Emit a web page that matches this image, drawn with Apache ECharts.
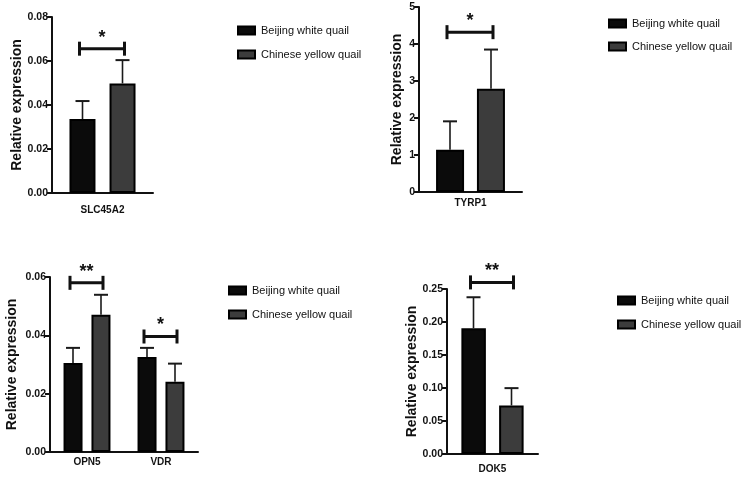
<!DOCTYPE html>
<html>
<head>
<meta charset="utf-8">
<script src="https://cdn.jsdelivr.net/npm/echarts@6/dist/echarts.min.js"></script>
<style>
  html, body { margin: 0; padding: 0; background: #fff; }
  #main { width: 741px; height: 479px; }
</style>
</head>
<body>
<div id="main"></div>
<script>
// group names
var groups = ['Beijing white quail', 'Chinese yellow quail'];

// SLC45A2
var slcCats = ['SLC45A2'];
var slcWhite = [0.0336];
var slcWhiteSd = [0.0082];
var slcYellow = [0.0498];
var slcYellowSd = [0.0106];
var slcSigY = [0.0656];
var slcSigMark = ['*'];

// TYRP1
var tyrCats = ['TYRP1'];
var tyrWhite = [1.14];
var tyrWhiteSd = [0.77];
var tyrYellow = [2.79];
var tyrYellowSd = [1.06];
var tyrSigY = [4.32];
var tyrSigMark = ['*'];

// OPN5 / VDR
var ovCats = ['OPN5', 'VDR'];
var ovWhite = [0.0305, 0.0326];
var ovWhiteSd = [0.0052, 0.0031];
var ovYellow = [0.0471, 0.0241];
var ovYellowSd = [0.0068, 0.0062];
var ovSigY = [0.058, 0.0396];
var ovSigMark = ['**', '*'];

// DOK5
var dokCats = ['DOK5'];
var dokWhite = [0.1905];
var dokWhiteSd = [0.047];
var dokYellow = [0.0735];
var dokYellowSd = [0.0263];
var dokSigY = [0.26];
var dokSigMark = ['**'];

// y axis ticks
var slcTicks = [0, 0.02, 0.04, 0.06, 0.08];
var tyrTicks = [0, 1, 2, 3, 4, 5];
var ovTicks = [0, 0.02, 0.04, 0.06];
var dokTicks = [0, 0.05, 0.10, 0.15, 0.20, 0.25];

var FONT = '"Liberation Sans", Arial, Helvetica, sans-serif';

var panels = [
  { cats: slcCats, w: slcWhite, wsd: slcWhiteSd, y: slcYellow, ysd: slcYellowSd, sigY: slcSigY, sigM: slcSigMark, ticks: slcTicks, dec: 2,
    grid: { left: 52, top: 17, width: 101, height: 176 }, barW: 26, gap: '54%', off: 20, nameGap: 28, labMargin: 12,
    legend: { left: 232, top: 20, gap: 13 } },
  { cats: tyrCats, w: tyrWhite, wsd: tyrWhiteSd, y: tyrYellow, ysd: tyrYellowSd, sigY: tyrSigY, sigM: tyrSigMark, ticks: tyrTicks, dec: 0,
    grid: { left: 419, top: 7, width: 103, height: 185 }, barW: 28, gap: '46%', off: 20.5, nameGap: 15, labMargin: 6,
    legend: { left: 603, top: 13, gap: 12 } },
  { cats: ovCats, w: ovWhite, wsd: ovWhiteSd, y: ovYellow, ysd: ovYellowSd, sigY: ovSigY, sigM: ovSigMark, ticks: ovTicks, dec: 2,
    grid: { left: 50, top: 277, width: 148, height: 175 }, barW: 19, gap: '47%', off: 14, nameGap: 31, labMargin: 5,
    legend: { left: 223, top: 280, gap: 13 } },
  { cats: dokCats, w: dokWhite, wsd: dokWhiteSd, y: dokYellow, ysd: dokYellowSd, sigY: dokSigY, sigM: dokSigMark, ticks: dokTicks, dec: 2,
    grid: { left: 447, top: 289, width: 91, height: 165 }, barW: 24.5, gap: '54%', off: 19, nameGap: 28, labMargin: 10,
    legend: { left: 612, top: 290, gap: 13 } }
];

var grids = [], xAxes = [], yAxes = [], series = [], legends = [];

panels.forEach(function (p, i) {
  grids.push(p.grid);
  var t = p.ticks;
  xAxes.push({
    type: 'category', gridIndex: i, data: p.cats,
    axisLine: { lineStyle: { color: '#111', width: 2 } },
    axisTick: { alignWithLabel: true, length: 6, lineStyle: { color: '#111', width: 2 } },
    axisLabel: { color: '#111', fontWeight: 'bold', fontSize: 10, fontFamily: FONT, margin: p.labMargin }
  });
  yAxes.push({
    type: 'value', gridIndex: i, min: t[0], max: t[t.length - 1], interval: t[1] - t[0],
    name: 'Relative expression', nameLocation: 'middle', nameGap: p.nameGap,
    nameTextStyle: { color: '#111', fontWeight: 'bold', fontSize: 14, fontFamily: FONT },
    axisLine: { show: true, lineStyle: { color: '#111', width: 2 } },
    axisTick: { show: true, length: 5, lineStyle: { color: '#111', width: 2 } },
    splitLine: { show: false },
    axisLabel: { color: '#111', fontWeight: 'bold', fontSize: 10.5, fontFamily: FONT, margin: 4,
      formatter: function (v) { return v.toFixed(p.dec); } }
  });
  series.push({
    name: groups[0], type: 'bar', xAxisIndex: i, yAxisIndex: i, data: p.w,
    barWidth: p.barW, barGap: p.gap,
    itemStyle: { color: '#0b0b0b', borderColor: '#000', borderWidth: 2 }
  });
  series.push({
    name: groups[1], type: 'bar', xAxisIndex: i, yAxisIndex: i, data: p.y,
    barWidth: p.barW, barGap: p.gap,
    itemStyle: { color: '#3c3c3c', borderColor: '#000', borderWidth: 2 }
  });
  // error bars (upper only)
  var errData = [];
  p.cats.forEach(function (c, k) {
    errData.push([k, 0, p.w[k], p.w[k] + p.wsd[k]]);
    errData.push([k, 1, p.y[k], p.y[k] + p.ysd[k]]);
  });
  series.push({
    type: 'custom', xAxisIndex: i, yAxisIndex: i, data: errData, z: 3, silent: true,
    encode: { x: 0, y: 3 },
    renderItem: function (params, api) {
      var side = api.value(1) ? 1 : -1;
      var top = api.coord([api.value(0), api.value(3)]);
      var base = api.coord([api.value(0), api.value(2)]);
      var x = top[0] + side * p.off;
      return { type: 'group', children: [
        { type: 'line', shape: { x1: x, y1: base[1], x2: x, y2: top[1] }, style: { stroke: '#1a1a1a', lineWidth: 1.6 } },
        { type: 'line', shape: { x1: x - 7, y1: top[1], x2: x + 7, y2: top[1] }, style: { stroke: '#1a1a1a', lineWidth: 2 } }
      ] };
    }
  });
  // significance brackets
  var sigData = p.cats.map(function (c, k) { return [k, p.sigY[k]]; });
  series.push({
    type: 'custom', xAxisIndex: i, yAxisIndex: i, data: sigData, z: 3, silent: true, clip: false,
    encode: { x: 0, y: 1 },
    renderItem: function (params, api) {
      var c = api.coord([api.value(0), api.value(1)]);
      var x1 = c[0] - p.off - 3, x2 = c[0] + p.off + 2, y = c[1];
      return { type: 'group', children: [
        { type: 'line', shape: { x1: x1, y1: y, x2: x2, y2: y }, style: { stroke: '#111', lineWidth: 3 } },
        { type: 'line', shape: { x1: x1, y1: y - 7, x2: x1, y2: y + 7 }, style: { stroke: '#111', lineWidth: 3 } },
        { type: 'line', shape: { x1: x2, y1: y - 7, x2: x2, y2: y + 7 }, style: { stroke: '#111', lineWidth: 3 } },
        { type: 'text', style: { text: p.sigM[params.dataIndex], x: (x1 + x2) / 2, y: y - 2,
          align: 'center', verticalAlign: 'bottom', fontSize: 18, fontWeight: 'bold', fontFamily: FONT, fill: '#111' } }
      ] };
    }
  });
  legends.push({
    data: groups, orient: 'vertical', left: p.legend.left, top: p.legend.top,
    icon: 'rect', itemWidth: 17, itemHeight: 8, itemGap: p.legend.gap, selectedMode: false,
    padding: 5,
    textStyle: { color: '#111', fontSize: 11, fontFamily: FONT, padding: [0, 0, 0, 1] }
  });
});

echarts.init(document.getElementById('main')).setOption({
  backgroundColor: '#fff',
  animation: false,
  textStyle: { fontFamily: FONT },
  grid: grids,
  xAxis: xAxes,
  yAxis: yAxes,
  legend: legends,
  series: series
});
</script>
</body>
</html>
